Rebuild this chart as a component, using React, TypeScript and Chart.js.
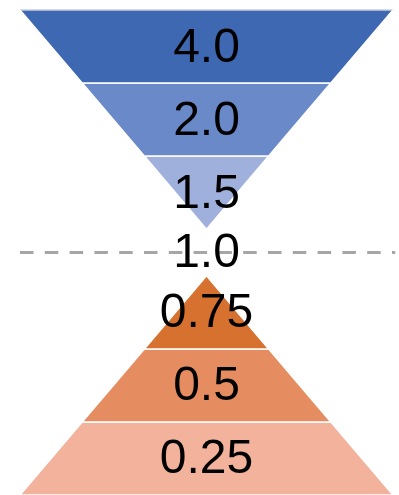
import React, { useEffect, useRef } from "react";
import { Chart, registerables } from "chart.js";

Chart.register(...registerables);

// ---- Data ----
const upperLabels = ["4.0", "2.0", "1.5"]; // inverted (blue) funnel, top to bottom
const referenceLabel = "1.0"; // dashed reference line
const lowerLabels = ["0.75", "0.5", "0.25"]; // pyramid (orange), top to bottom

// ---- Styles ----
const upperColors = ["#3F68B2", "#6A89C9", "#9FB0DC"];
const lowerColors = ["#D6712F", "#E68C61", "#F2B29B"];
const dashColor = "#A6A6A6";

// ---- Layout (in chart value units: one band = 1) ----
const UPPER_APEX = 3;
const REFERENCE_Y = 3.32;
const LOWER_APEX = 3.64;
const LOWER_BASE = LOWER_APEX + lowerLabels.length;

function bandPolygon(y0: number, y1: number, halfWidth: (y: number) => number) {
  const a = halfWidth(y0);
  const b = halfWidth(y1);
  return [
    { x: -a, y: y0 },
    { x: a, y: y0 },
    { x: b, y: y1 },
    { x: -b, y: y1 },
    { x: -a, y: y0 },
  ];
}

const upperHalf = (y: number) => (UPPER_APEX - y) / upperLabels.length;
const lowerHalf = (y: number) => (y - LOWER_APEX) / lowerLabels.length;

export default function App() {
  const ref = useRef<HTMLCanvasElement | null>(null);

  useEffect(() => {
    if (!ref.current) return;

    const datasets: any[] = [];
    upperLabels.forEach((_, i) => {
      datasets.push({
        data: bandPolygon(i, i + 1, upperHalf),
        backgroundColor: upperColors[i],
        borderColor: "#FFFFFF",
        borderWidth: 1.5,
        segment:
          i === 0
            ? { borderColor: (c: any) => (c.p0DataIndex === 0 ? "#C8CEDA" : "#FFFFFF") }
            : undefined,
        fill: "shape",
        showLine: true,
        pointRadius: 0,
        tension: 0,
        clip: false,
      });
    });
    lowerLabels.forEach((_, i) => {
      datasets.push({
        data: bandPolygon(LOWER_APEX + i, LOWER_APEX + i + 1, lowerHalf),
        backgroundColor: lowerColors[i],
        borderColor: "#FFFFFF",
        borderWidth: 1.5,
        fill: "shape",
        showLine: true,
        pointRadius: 0,
        tension: 0,
      });
    });
    datasets.push({
      data: [
        { x: -1, y: REFERENCE_Y },
        { x: 1.012, y: REFERENCE_Y },
      ],
      borderColor: dashColor,
      borderWidth: 3,
      borderDash: [13.5, 11.3],
      borderCapStyle: "butt",
      fill: false,
      showLine: true,
      pointRadius: 0,
      clip: false,
    });

    const labelPlugin = {
      id: "bandLabels",
      afterDatasetsDraw(chart: any) {
        const { ctx, scales } = chart;
        const xs = scales.x;
        const ys = scales.y;
        const cx = xs.getPixelForValue(0);
        const size = 48;
        const half = size * 0.358;
        ctx.save();
        ctx.font = `${size}px "Liberation Sans", Arial, sans-serif`;
        ctx.fillStyle = "#000000";
        ctx.textAlign = "center";
        ctx.textBaseline = "alphabetic";
        upperLabels.forEach((t, i) => {
          ctx.fillText(t, cx, ys.getPixelForValue(i + 0.48) + half);
        });
        ctx.fillText(referenceLabel, cx, ys.getPixelForValue(REFERENCE_Y - 0.03) + half);
        lowerLabels.forEach((t, i) => {
          ctx.fillText(t, cx, ys.getPixelForValue(LOWER_APEX + i + 0.46) + half);
        });
        ctx.restore();
      },
    };

    const chart = new Chart(ref.current, {
      type: "scatter",
      data: { datasets },
      options: {
        responsive: false,
        animation: false,
        layout: { padding: { left: 20, right: 6, top: 10, bottom: 0 } },
        plugins: {
          legend: { display: false },
          tooltip: { enabled: false },
        },
        scales: {
          x: { type: "linear", min: -1, max: 1, display: false },
          y: { type: "linear", min: 0, max: LOWER_BASE, reverse: true, display: false },
        },
      },
      plugins: [labelPlugin],
    });

    return () => chart.destroy();
  }, []);

  return (
    <div style={{ position: "absolute", left: 0, top: 0, width: 399, height: 495, background: "#FFFFFF" }}>
      <canvas ref={ref} width={399} height={495} style={{ width: 399, height: 495 }} />
    </div>
  );
}
